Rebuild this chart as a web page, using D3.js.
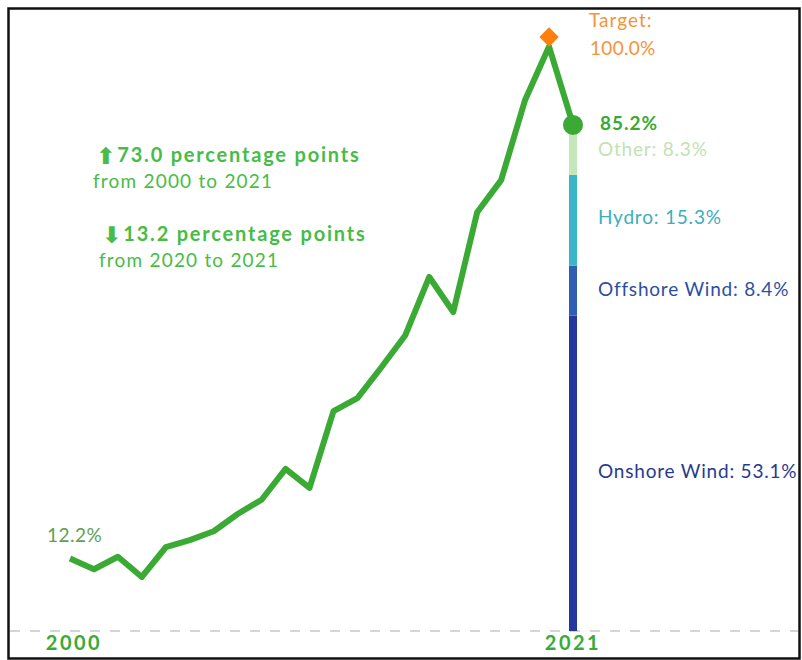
<!DOCTYPE html>
<html>
<head>
<meta charset="utf-8">
<script src="https://cdn.jsdelivr.net/npm/d3@7"></script>
<style>
  body { margin: 0; background: #fff; }
  svg { display: block; font-family: 'Lato', 'Open Sans', sans-serif; }
</style>
</head>
<body>
<div class="chart"></div>
<script>
const years = [2000, 2001, 2002, 2003, 2004, 2005, 2006, 2007, 2008, 2009, 2010,
  2011, 2012, 2013, 2014, 2015, 2016, 2017, 2018, 2019, 2020, 2021];
const shares = [12.2, 10.4, 12.5, 9.1, 14.1, 15.3, 16.8, 19.7, 22.1, 27.3, 24.1,
  37.0, 39.2, 44.4, 49.8, 59.6, 53.7, 70.5, 75.9, 89.4, 98.4, 85.2];

// 2021 breakdown, bottom to top
const parts = ['Onshore Wind', 'Offshore Wind', 'Hydro', 'Other'];
const partValues = [53.1, 8.4, 15.3, 8.3];
const partColors = ['#24379b', '#2e5fb2', '#3bb5c8', '#c4e6b8'];
const partText = ['#283a8e', '#2b4fa3', '#3aaebf', '#c2e2b4'];

const target = 100.0;
const targetYear = 2020;

const notes = [
  {arrow: '\u2B06', big: '73.0 percentage points', small: 'from 2000 to 2021'},
  {arrow: '\u2B07', big: '13.2 percentage points', small: 'from 2020 to 2021'}
];

const width = 802, height = 660;
const green = '#3aaa35';
const noteGreen = '#47bc46';

const svg = d3.select('.chart').append('svg')
  .attr('width', width)
  .attr('height', height);

const x = d3.scaleLinear().domain([2000, 2021]).range([70, 573]);
const y = d3.scaleLinear().domain([0, 100]).range([631, 37]);

// frame
svg.append('rect')
  .attr('x', 8.5).attr('y', 8.5)
  .attr('width', 791).attr('height', 650)
  .attr('fill', 'none')
  .attr('stroke', '#111')
  .attr('stroke-width', 2.5);

// dashed baseline
svg.append('line')
  .attr('x1', 10).attr('x2', 798)
  .attr('y1', y(0)).attr('y2', y(0))
  .attr('stroke', '#c8c8c8')
  .attr('stroke-width', 1.5)
  .attr('stroke-dasharray', '10,10');

// stacked bar for last year
const last = years[years.length - 1];
let base = 0;
const stack = partValues.map((v, i) => {
  const s = {name: parts[i], value: v, y0: base, y1: base + v, color: partColors[i], text: partText[i]};
  base += v;
  return s;
});

svg.selectAll('.seg')
  .data(stack)
  .enter()
  .append('rect')
  .attr('class', 'seg')
  .attr('x', x(last) - 4)
  .attr('width', 8)
  .attr('y', d => y(d.y1))
  .attr('height', d => y(d.y0) - y(d.y1))
  .attr('fill', d => d.color);

const labelY = [473, 291, 219, 151];
svg.selectAll('.seglabel')
  .data(stack)
  .enter()
  .append('text')
  .attr('class', 'seglabel')
  .attr('x', 598)
  .attr('y', (d, i) => labelY[i])
  .attr('dominant-baseline', 'middle')
  .attr('font-size', 19)
  .attr('letter-spacing', 0.8)
  .attr('fill', d => d.text)
  .text(d => `${d.name}: ${d3.format('.1f')(d.value)}%`);

// line
const line = d3.line()
  .x((d, i) => x(years[i]))
  .y(d => y(d));

svg.append('path')
  .datum(shares)
  .attr('fill', 'none')
  .attr('stroke', green)
  .attr('stroke-width', 6)
  .attr('stroke-linejoin', 'round')
  .attr('d', line);

// target marker
svg.append('path')
  .attr('d', d3.symbol().type(d3.symbolDiamond2).size(240)())
  .attr('transform', `translate(${x(targetYear)},${y(target)})`)
  .attr('fill', '#ff7f0e');

svg.append('text')
  .attr('x', 589).attr('y', 22)
  .attr('dominant-baseline', 'middle')
  .attr('font-size', 19)
  .attr('letter-spacing', 1)
  .attr('fill', '#f5933a')
  .text('Target:');
svg.append('text')
  .attr('x', 590).attr('y', 50)
  .attr('dominant-baseline', 'middle')
  .attr('font-size', 19)
  .attr('letter-spacing', 0.3)
  .attr('fill', '#f5933a')
  .text(d3.format('.1f')(target) + '%');

// end point
svg.append('circle')
  .attr('cx', x(last))
  .attr('cy', y(shares[shares.length - 1]))
  .attr('r', 10)
  .attr('fill', green);

svg.append('text')
  .attr('x', 600).attr('y', y(shares[shares.length - 1]))
  .attr('dominant-baseline', 'middle')
  .attr('font-size', 19)
  .attr('font-weight', 'bold')
  .attr('letter-spacing', 1)
  .attr('fill', green)
  .text(d3.format('.1f')(shares[shares.length - 1]) + '%');

// start label
svg.append('text')
  .attr('x', 47).attr('y', 537)
  .attr('dominant-baseline', 'middle')
  .attr('font-size', 19)
  .attr('letter-spacing', 0.5)
  .attr('fill', '#5e9e55')
  .text(d3.format('.1f')(shares[0]) + '%');

// x labels
svg.selectAll('.year')
  .data([years[0], last])
  .enter()
  .append('text')
  .attr('class', 'year')
  .attr('x', (d, i) => x(d) + (i === 0 ? 4 : 0))
  .attr('y', 645)
  .attr('text-anchor', 'middle')
  .attr('dominant-baseline', 'middle')
  .attr('font-size', 20)
  .attr('font-weight', 'bold')
  .attr('letter-spacing', 2.5)
  .attr('fill', green)
  .text(d => d);

// annotations
const noteX = [96, 102];
const noteY = [157, 236];
notes.forEach((n, i) => {
  const t = svg.append('text')
    .attr('x', noteX[i]).attr('y', noteY[i])
    .attr('dominant-baseline', 'middle')
    .attr('font-size', 20)
    .attr('font-weight', 'bold')
    .attr('letter-spacing', 1.8)
    .attr('fill', noteGreen);
  t.append('tspan').attr('font-family', 'DejaVu Sans').attr('font-size', 23).attr('letter-spacing', 0).text(n.arrow);
  t.append('tspan').attr('dx', 2).text(n.big);
  svg.append('text')
    .attr('x', noteX[i] - 3).attr('y', noteY[i] + 26)
    .attr('dominant-baseline', 'middle')
    .attr('font-size', 19)
    .attr('letter-spacing', 1.2)
    .attr('fill', noteGreen)
    .text(n.small);
});
</script>
</body>
</html>
